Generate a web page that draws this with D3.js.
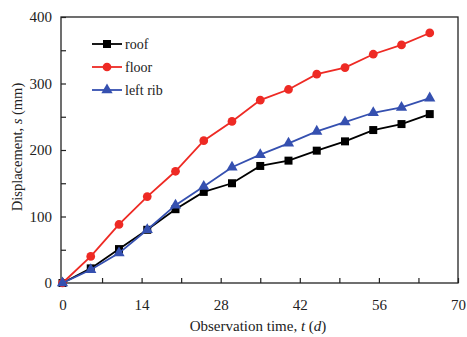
<!DOCTYPE html>
<html>
<head>
<meta charset="utf-8">
<script src="https://cdn.jsdelivr.net/npm/d3@7"></script>
<style>
  body { margin: 0; background: #fff; }
  svg { font-family: "Liberation Serif", "DejaVu Serif", serif; }
</style>
</head>
<body>
<svg id="chart" width="467" height="337"></svg>
<script>
// observation days
var days = [0, 5, 10, 15, 20, 25, 30, 35, 40, 45, 50, 55, 60, 65];
var roof = [0, 22, 51, 80, 111, 137, 150, 176, 184, 199, 213, 230, 239, 254];
var floor = [0, 40, 88, 130, 168, 214, 243, 275, 291, 314, 324, 344, 358, 376];
var leftRib = [0, 20, 45, 80, 117, 145, 174, 193, 210, 228, 242, 256, 264, 278];
var xTicks = [0, 14, 28, 42, 56, 70];
var yTicks = [0, 100, 200, 300, 400];

var svg = d3.select("#chart");
var plotL = 61, plotR = 458, plotT = 17, plotB = 283;

var x = d3.scaleLinear().domain([0, 70]).range([plotL + 1.5, plotR]);
var y = d3.scaleLinear().domain([0, 400]).range([plotB, plotT]);

// frame
svg.append("rect").attr("x", plotL).attr("y", plotT).attr("width", plotR - plotL).attr("height", plotB - plotT)
  .attr("fill", "none").attr("stroke", "#222").attr("stroke-width", 1.3);

// ticks inward
var xAxis = d3.axisBottom(x).tickValues(d3.range(0, 71, 7)).tickSize(-5).tickFormat(function (d) {
  return xTicks.indexOf(d) >= 0 ? d : "";
}).tickPadding(16);
var gx = svg.append("g").attr("transform", "translate(0," + plotB + ")").call(xAxis);
gx.select(".domain").remove();
gx.selectAll(".tick line").attr("stroke", "#222").attr("stroke-width", 1.2);
gx.selectAll("text").attr("font-size", 15).attr("fill", "#222").attr("font-family", "Liberation Serif");

var yAxis = d3.axisLeft(y).tickValues(d3.range(0, 401, 50)).tickSize(-5).tickFormat(function (d) {
  return yTicks.indexOf(d) >= 0 ? d : "";
}).tickPadding(9);
var gy = svg.append("g").attr("transform", "translate(" + plotL + ",0)").call(yAxis);
gy.select(".domain").remove();
gy.selectAll(".tick line").attr("stroke", "#222").attr("stroke-width", 1.2);
gy.selectAll("text").attr("font-size", 15).attr("fill", "#222").attr("font-family", "Liberation Serif");

// axis titles
var xt = svg.append("text").attr("x", 258).attr("y", 331).attr("text-anchor", "middle")
  .attr("font-size", 15).attr("fill", "#222");
xt.append("tspan").text("Observation time, ");
xt.append("tspan").attr("font-style", "italic").text("t");
xt.append("tspan").text(" (");
xt.append("tspan").attr("font-style", "italic").text("d");
xt.append("tspan").text(")");

var yt = svg.append("text").attr("transform", "translate(22,147) rotate(-90)").attr("text-anchor", "middle")
  .attr("font-size", 14.5).attr("fill", "#222");
yt.append("tspan").text("Displacement, ");
yt.append("tspan").attr("font-style", "italic").text("s");
yt.append("tspan").text(" (mm)");

var series = [
  { name: "roof", values: roof, color: "#000000", shape: d3.symbolSquare, size: 64 },
  { name: "floor", values: floor, color: "#ee2a24", shape: d3.symbolCircle, size: 60 },
  { name: "left rib", values: leftRib, color: "#3550b0", shape: d3.symbolTriangle, size: 55 }
];

var line = d3.line().x(function (d) { return x(d[0]); }).y(function (d) { return y(d[1]); });

series.forEach(function (s, i) {
  var pts = days.map(function (d, j) { return [d, s.values[j]]; });
  svg.append("path").datum(pts).attr("d", line).attr("fill", "none")
    .attr("stroke", s.color).attr("stroke-width", 1.8);
  svg.selectAll(null).data(pts).enter().append("path")
    .attr("d", d3.symbol().type(s.shape).size(s.size))
    .attr("transform", function (d) { return "translate(" + x(d[0]) + "," + y(d[1]) + ")"; })
    .attr("fill", s.color);

  // legend
  var ly = 44 + i * 23;
  svg.append("line").attr("x1", 92).attr("x2", 122).attr("y1", ly).attr("y2", ly)
    .attr("stroke", s.color).attr("stroke-width", 1.8);
  svg.append("path").attr("d", d3.symbol().type(s.shape).size(s.size))
    .attr("transform", "translate(107," + ly + ")").attr("fill", s.color);
  svg.append("text").attr("x", 125).attr("y", ly + 5).attr("font-size", 14).attr("fill", "#222").text(s.name);
});
</script>
</body>
</html>
